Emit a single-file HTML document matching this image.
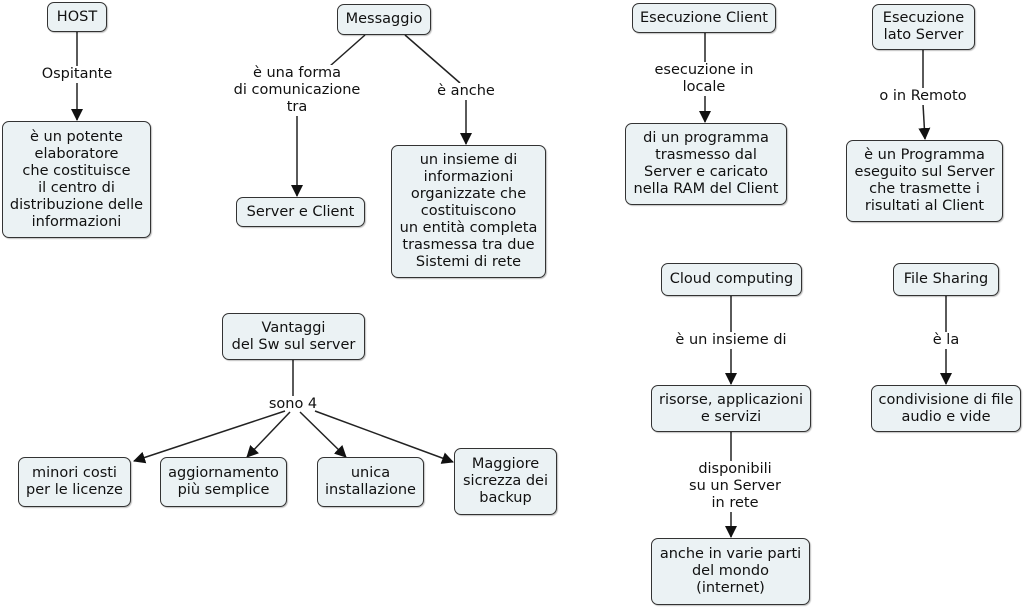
<!DOCTYPE html>
<html><head><meta charset="utf-8"><style>
body{margin:0;width:1024px;height:608px;background:#fff;position:relative;overflow:hidden;font-family:"DejaVu Sans","Liberation Sans",sans-serif;font-size:14.5px;color:#111}
.n{position:absolute;box-sizing:border-box;border:1.5px solid #333;border-radius:7px;background:#ebf2f4;display:flex;align-items:center;justify-content:center;text-align:center;line-height:17px;box-shadow:1px 1px 1px rgba(0,0,0,.25);white-space:nowrap}
.l{position:absolute;text-align:center;line-height:17px;background:#fff;transform:translateX(-50%);white-space:nowrap}
svg{position:absolute;left:0;top:0}
</style></head><body>
<svg width="1024" height="608">
<defs><marker id="a" markerWidth="12" markerHeight="12" refX="11" refY="6" orient="auto" markerUnits="userSpaceOnUse"><path d="M0,0 L12,6 L0,12 z" fill="#111"/></marker></defs>
<g stroke="#222" stroke-width="1.5" fill="none">
<line x1="77" y1="32" x2="77" y2="66"/><line x1="77" y1="82" x2="77" y2="120" marker-end="url(#a)"/>
<line x1="365" y1="35" x2="330" y2="66"/><line x1="297" y1="115" x2="297" y2="196" marker-end="url(#a)"/>
<line x1="405" y1="35" x2="460" y2="83"/><line x1="466" y1="99" x2="466" y2="144" marker-end="url(#a)"/>
<line x1="705" y1="33" x2="705" y2="62"/><line x1="705" y1="95" x2="705" y2="122" marker-end="url(#a)"/>
<line x1="923" y1="50" x2="923" y2="88"/><line x1="923" y1="104" x2="925" y2="139" marker-end="url(#a)"/>
<line x1="731" y1="296" x2="731" y2="332"/><line x1="731" y1="348" x2="731" y2="384" marker-end="url(#a)"/>
<line x1="731" y1="432" x2="731" y2="461"/><line x1="731" y1="511" x2="731" y2="537" marker-end="url(#a)"/>
<line x1="946" y1="296" x2="946" y2="332"/><line x1="946" y1="348" x2="946" y2="384" marker-end="url(#a)"/>
<line x1="293" y1="360" x2="293" y2="396"/>
<line x1="285" y1="411" x2="134" y2="461" marker-end="url(#a)"/>
<line x1="290" y1="412" x2="247" y2="457" marker-end="url(#a)"/>
<line x1="300" y1="412" x2="346" y2="457" marker-end="url(#a)"/>
<line x1="315" y1="411" x2="453" y2="462" marker-end="url(#a)"/>
</g></svg>

<div class="n" style="left:47px;top:2px;width:60px;height:30px">HOST</div>
<div class="n" style="left:2px;top:121px;width:149px;height:117px">è un potente<br>elaboratore<br>che costituisce<br>il centro di<br>distribuzione delle<br>informazioni</div>
<div class="n" style="left:337px;top:4px;width:94px;height:31px">Messaggio</div>
<div class="n" style="left:236px;top:197px;width:129px;height:30px">Server e Client</div>
<div class="n" style="left:391px;top:145px;width:155px;height:133px">un insieme di<br>informazioni<br>organizzate che<br>costituiscono<br>un entità completa<br>trasmessa tra due<br>Sistemi di rete</div>
<div class="n" style="left:632px;top:3px;width:144px;height:30px">Esecuzione Client</div>
<div class="n" style="left:625px;top:123px;width:162px;height:82px">di un programma<br>trasmesso dal<br>Server e caricato<br>nella RAM del Client</div>
<div class="n" style="left:872px;top:4px;width:103px;height:46px">Esecuzione<br>lato Server</div>
<div class="n" style="left:846px;top:140px;width:157px;height:82px">è un Programma<br>eseguito sul Server<br>che trasmette i<br>risultati al Client</div>
<div class="n" style="left:661px;top:263px;width:141px;height:33px">Cloud computing</div>
<div class="n" style="left:651px;top:385px;width:160px;height:47px">risorse, applicazioni<br>e servizi</div>
<div class="n" style="left:651px;top:538px;width:159px;height:67px">anche in varie parti<br>del mondo<br>(internet)</div>
<div class="n" style="left:893px;top:263px;width:106px;height:33px">File Sharing</div>
<div class="n" style="left:871px;top:385px;width:150px;height:47px">condivisione di file<br>audio e vide</div>
<div class="n" style="left:222px;top:313px;width:143px;height:47px">Vantaggi<br>del Sw sul server</div>
<div class="n" style="left:18px;top:457px;width:113px;height:50px">minori costi<br>per le licenze</div>
<div class="n" style="left:160px;top:457px;width:127px;height:50px">aggiornamento<br>più semplice</div>
<div class="n" style="left:317px;top:457px;width:107px;height:50px">unica<br>installazione</div>
<div class="n" style="left:454px;top:448px;width:103px;height:67px">Maggiore<br>sicrezza dei<br>backup</div>

<div class="l" style="left:77px;top:66px">Ospitante</div>
<div class="l" style="left:297px;top:65px">è una forma<br>di comunicazione<br>tra</div>
<div class="l" style="left:466px;top:83px">è anche</div>
<div class="l" style="left:704px;top:62px">esecuzione in<br>locale</div>
<div class="l" style="left:923px;top:88px">o in Remoto</div>
<div class="l" style="left:731px;top:332px">è un insieme di</div>
<div class="l" style="left:735px;top:461px">disponibili<br>su un Server<br>in rete</div>
<div class="l" style="left:946px;top:332px">è la</div>
<div class="l" style="left:293px;top:396px;background:transparent">sono 4</div>
</body></html>
